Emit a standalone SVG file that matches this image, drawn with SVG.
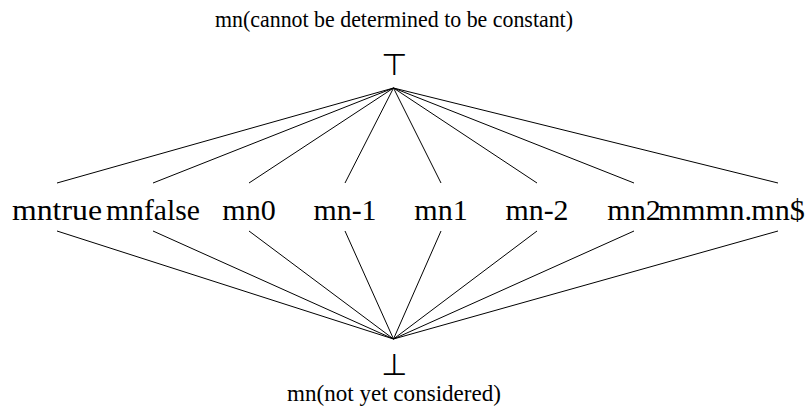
<svg xmlns="http://www.w3.org/2000/svg" width="809" height="416" viewBox="0 0 809 416">
<style>
  .lbl { font-family: "Liberation Serif", "DejaVu Serif", serif; font-size: 29px; text-anchor: middle; fill: #000; }
  .cap { font-family: "Liberation Serif", "DejaVu Serif", serif; font-size: 23px; text-anchor: middle; fill: #000; }
  .sym { font-family: "DejaVu Sans", sans-serif; font-size: 30px; text-anchor: middle; fill: #000; }
  .edge { stroke: #000; stroke-width: 1; fill: none; }
</style>
<rect width="809" height="416" fill="#fff"/>
<g id="connectors">
  <line class="edge" x1="393.5" y1="88" x2="57" y2="183"/>
  <line class="edge" x1="393.5" y1="88" x2="153" y2="183"/>
  <line class="edge" x1="393.5" y1="88" x2="249" y2="183"/>
  <line class="edge" x1="393.5" y1="88" x2="345" y2="183"/>
  <line class="edge" x1="393.5" y1="88" x2="441" y2="183"/>
  <line class="edge" x1="393.5" y1="88" x2="537" y2="183"/>
  <line class="edge" x1="393.5" y1="88" x2="634" y2="183"/>
  <line class="edge" x1="393.5" y1="88" x2="778" y2="183"/>
  <line class="edge" x1="57" y1="231" x2="393.5" y2="339"/>
  <line class="edge" x1="153" y1="231" x2="393.5" y2="339"/>
  <line class="edge" x1="249" y1="231" x2="393.5" y2="339"/>
  <line class="edge" x1="345" y1="231" x2="393.5" y2="339"/>
  <line class="edge" x1="441" y1="231" x2="393.5" y2="339"/>
  <line class="edge" x1="537" y1="231" x2="393.5" y2="339"/>
  <line class="edge" x1="634" y1="231" x2="393.5" y2="339"/>
  <line class="edge" x1="778" y1="231" x2="393.5" y2="339"/>
</g>
<g id="top">
  <text class="cap" x="394" y="27" textLength="358" lengthAdjust="spacingAndGlyphs">mn(cannot be determined to be constant)</text>
  <text class="sym" x="394" y="75">⊤</text>
</g>
<g id="bottom">
  <text class="sym" x="394" y="375">⊥</text>
  <text class="cap" x="394" y="401" textLength="214" lengthAdjust="spacingAndGlyphs">mn(not yet considered)</text>
</g>
<g id="n-true"><text class="lbl" x="57" y="220" textLength="90" lengthAdjust="spacingAndGlyphs">mntrue</text></g>
<g id="n-false"><text class="lbl" x="153" y="220" textLength="94" lengthAdjust="spacingAndGlyphs">mnfalse</text></g>
<g id="n-0"><text class="lbl" x="249" y="220" textLength="53.5" lengthAdjust="spacingAndGlyphs">mn0</text></g>
<g id="n-m1"><text class="lbl" x="345" y="220" textLength="63" lengthAdjust="spacingAndGlyphs">mn-1</text></g>
<g id="n-1"><text class="lbl" x="441" y="220" textLength="53.5" lengthAdjust="spacingAndGlyphs">mn1</text></g>
<g id="n-m2"><text class="lbl" x="537" y="220" textLength="63" lengthAdjust="spacingAndGlyphs">mn-2</text></g>
<g id="n-2"><text class="lbl" x="634" y="220" textLength="53.5" lengthAdjust="spacingAndGlyphs">mn2</text></g>
<g id="n-dots"><text class="lbl" x="705" y="220" textLength="94" lengthAdjust="spacingAndGlyphs">mmmn.</text></g>
<g id="n-dollar"><text class="lbl" x="778" y="220" textLength="53.5" lengthAdjust="spacingAndGlyphs">mn$</text></g>
</svg>
